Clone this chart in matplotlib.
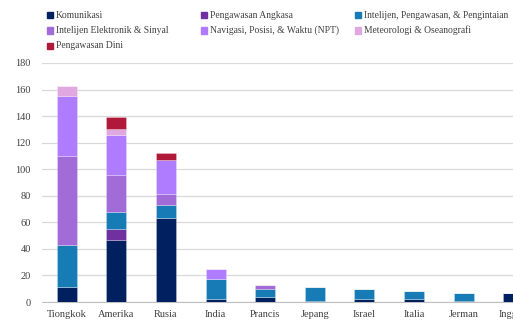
import numpy as np
import matplotlib
matplotlib.use("Agg")
from matplotlib import pyplot as plt
from matplotlib.patches import Rectangle

negara = ["Tiongkok", "Amerika", "Rusia", "India", "Prancis",
          "Jepang", "Israel", "Italia", "Jerman", "Inggris"]

seri = ["Komunikasi", "Pengawasan Angkasa", "Intelijen, Pengawasan, & Pengintaian",
        "Intelijen Elektronik & Sinyal", "Navigasi, Posisi, & Waktu (NPT)",
        "Meteorologi & Oseanografi", "Pengawasan Dini"]

warna = ["#002060", "#7030A0", "#177CB6", "#A16CD8", "#B07CFF", "#E0A8E0", "#B0193A"]

komunikasi = [11, 47, 63, 2, 4, 1, 2.5, 2.5, 1, 7]
angkasa    = [0, 8, 0, 0, 0, 0, 0, 0, 0, 0]
isr        = [32, 13, 10, 15, 6, 10, 7.5, 5.8, 6, 0]
elektronik = [67, 28, 8, 0, 3, 0, 0, 0, 0, 0]
npt        = [45, 30, 26, 8, 0, 0, 0, 0, 0, 0]
meteo      = [8, 4, 0, 0, 0, 0, 0, 0, 0, 0]
dini       = [0, 9, 5, 0, 0, 0, 0, 0, 0, 0]

data = [komunikasi, angkasa, isr, elektronik, npt, meteo, dini]

plt.rcParams["font.family"] = ["Liberation Serif", "DejaVu Serif"]

W, H = 513, 322
fig = plt.figure(figsize=(W / 100, H / 100), dpi=100)
# sumbu sengaja melebar ke kanan, Inggris terpotong seperti aslinya
ax = fig.add_axes([42 / W, (H - 302) / H, (538 - 42) / W, (302 - 63) / H])

x = np.arange(len(negara))
bawah = np.zeros(len(negara))
for nilai, c in zip(data, warna):
    nilai = np.array(nilai, dtype=float)
    ax.bar(x, nilai, 0.4, bottom=bawah, color=c, edgecolor=(1, 1, 1, 0.35),
           linewidth=0.5, zorder=3)
    bawah += nilai

ax.set_xlim(-0.5, len(negara) - 0.5)
ax.set_ylim(0, 180)
ax.set_yticks(range(0, 181, 20))
ax.set_xticks(x)
ax.set_xticklabels(negara)
ax.tick_params(length=0, labelsize=7.5, colors="#404040")
ax.tick_params(axis="x", pad=6)
ax.tick_params(axis="y", pad=8)
ax.yaxis.grid(True, color="#D9D9D9", linewidth=0.9, zorder=0)
for s in ["top", "right", "left"]:
    ax.spines[s].set_visible(False)
ax.spines["bottom"].set_color("#BFBFBF")

# legenda manual, 3 kolom sama lebar
for i, (nama, c) in enumerate(zip(seri, warna)):
    kol, brs = i % 3, i // 3
    px = 50 + 154 * kol
    py = 15 + 15.5 * brs
    fig.patches.append(Rectangle(((px - 3) / W, (H - py - 3) / H), 6 / W, 6 / H,
                                 transform=fig.transFigure, color=c))
    fig.text((px + 6) / W, (H - py) / H, nama, fontsize=6.9, va="center",
             color="#404040")

fig.savefig("out.png", dpi=100)
